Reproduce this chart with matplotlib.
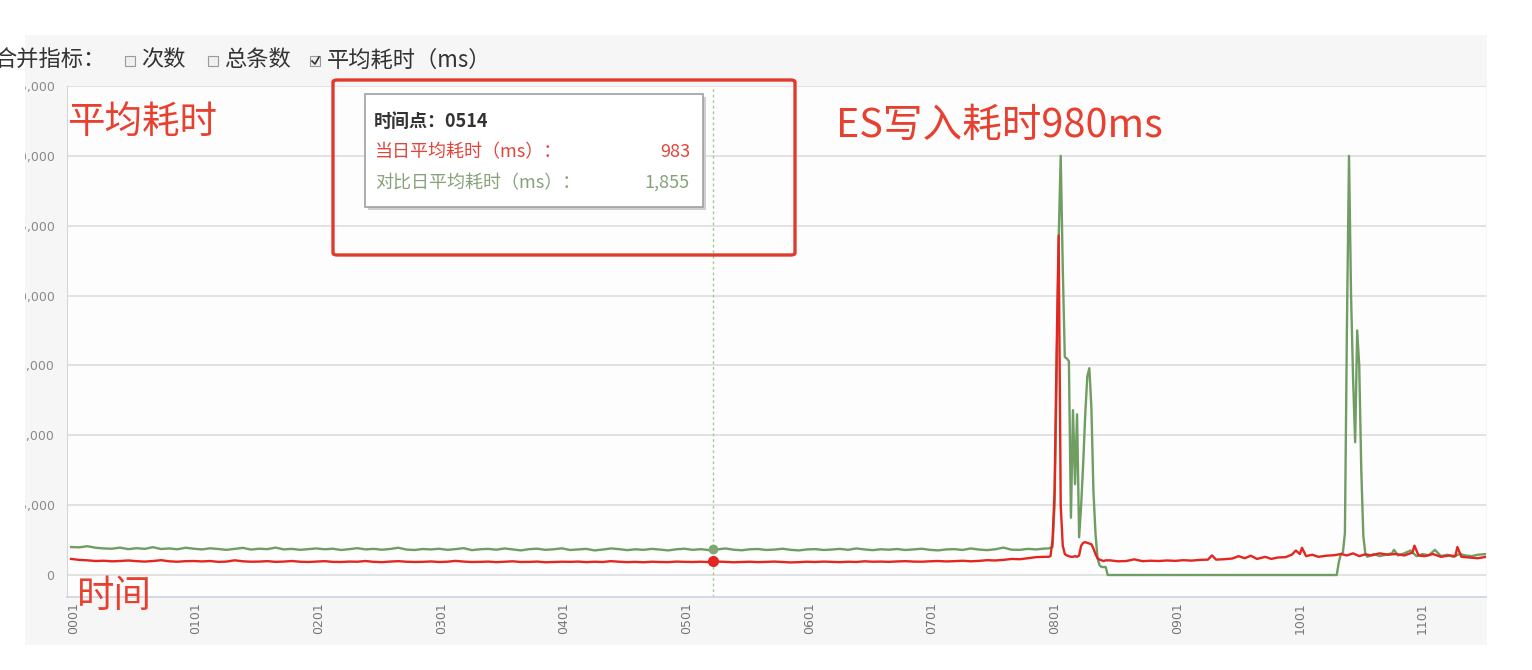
"""
Recreate the ES write latency screenshot chart (average latency per minute).
"""

import matplotlib
matplotlib.use("Agg")
import matplotlib.pyplot as plt
from matplotlib.patches import Rectangle, FancyBboxPatch
from matplotlib.lines import Line2D
from matplotlib.transforms import Bbox, TransformedBbox

plt.rcParams["font.family"] = ["Noto Sans CJK SC", "DejaVu Sans"]

W, H = 1532, 670

# time axis labels (HHMM), one per hour
hour_labels = ["0001", "0101", "0201", "0301", "0401", "0501",
               "0601", "0701", "0801", "0901", "1001", "1101"]
y_ticks = [0, 5000, 10000, 15000, 20000, 25000, 30000, 35000]

# comparison day (green), sampled every 4 minutes up to 07:56
green_base = [
    2000, 1980, 2060, 1950, 1900, 1880, 1960, 1850, 1920, 1870, 1990, 1860, 1900, 1840, 1950, 1880,
    1830, 1910, 1860, 1800, 1870, 1940, 1820, 1880, 1850, 1960, 1830, 1870, 1800, 1850, 1900,
    1840, 1880, 1790, 1850, 1920, 1830, 1870, 1810, 1860, 1950, 1820, 1790, 1860, 1830, 1880,
    1800, 1850, 1920, 1780, 1840, 1870, 1810, 1900, 1830, 1760, 1850, 1880, 1800, 1840, 1910,
    1790, 1830, 1870, 1760, 1820, 1900, 1850, 1780, 1840, 1800, 1870, 1820, 1760, 1840, 1880,
    1800, 1850, 1780, 1830, 1900, 1810, 1770, 1840, 1860, 1790, 1820, 1880, 1800, 1760, 1830,
    1850, 1790, 1820, 1870, 1800, 1900, 1830, 1780, 1840, 1810, 1860, 1790, 1830, 1880, 1800,
    1760, 1830, 1850, 1790, 1900, 1820, 1780, 1840, 1960, 1810, 1800, 1870, 1830, 1890,
]
# comparison day around the 08:00 and 10:25 spikes
green_spike_min = [478, 480, 481, 482, 483, 484, 485, 486, 487, 488, 489, 490, 491, 492,
                   493, 494, 495, 496, 497, 498, 499, 500, 501, 502, 503, 504, 505, 506,
                   507, 619, 620, 621, 622, 623, 624, 625, 626, 627, 628, 629, 630, 631,
                   632, 633, 634]
green_spike = [1900, 2000, 5000, 14000, 24000, 30000, 22000, 15600, 15500, 15300, 4100,
               11800, 6500, 11500, 2700, 5000, 8000, 11500, 14200, 14800, 12000, 6000,
               3000, 1200, 700, 570, 570, 570, 0, 0, 900, 1500, 1600, 3000, 18000, 30000,
               20000, 14000, 9500, 17500, 15000, 7500, 2800, 1500, 1300]
green_tail_min = [637, 640, 643, 646, 647, 649, 652, 655, 658, 661, 664, 667, 670, 673,
                  676, 679, 682, 685, 688, 692]
green_tail = [1500, 1350, 1450, 1550, 1800, 1400, 1550, 1750, 1350, 1500, 1400, 1800,
              1350, 1450, 1300, 1500, 1400, 1350, 1450, 1500]

# current day (red), sampled every 4 minutes up to 07:56
red_base = [
    1150, 1080, 1050, 1000, 1020, 980, 1000, 1040, 990, 960, 1000, 1060, 980, 950, 990, 1000,
    970, 1000, 940, 960, 1050, 980, 950, 960, 990, 940, 960, 1000, 950, 930, 960,
    990, 940, 930, 960, 950, 1000, 940, 920, 960, 990, 950, 930, 940, 970, 930,
    950, 1010, 960, 930, 940, 960, 920, 950, 980, 930, 940, 960, 910, 930, 950,
    940, 960, 920, 950, 930, 990, 950, 920, 940, 910, 950, 930, 920, 960, 940,
    930, 950, 920, 960, 940, 910, 930, 950, 920, 940, 960, 930, 900, 920, 950,
    930, 960, 940, 920, 950, 930, 980, 950, 960, 940, 970, 990, 960, 950, 980,
    1000, 970, 990, 1020, 980, 1010, 1060, 1040, 1080, 1150, 1130, 1200, 1280, 1300,
]
red_spike_min = [478, 479, 480, 481, 482, 483, 484, 485, 486, 487, 488, 489, 490, 491,
                 492, 493, 494, 495, 496, 497, 498, 499, 500, 501, 502, 503, 504, 505, 506]
red_spike = [1300, 1350, 2500, 6000, 16000, 24300, 5000, 2100, 1500, 1400, 1350, 1300,
             1300, 1350, 1300, 1400, 2100, 2300, 2350, 2300, 2250, 2200, 1900, 1500,
             1200, 1100, 1050, 1000, 1050]
red_tail_min = [508, 512, 516, 520, 524, 528, 532, 536, 540, 544, 548, 552, 556, 558,
                560, 564, 568, 571, 574, 577, 580, 584, 587, 590, 594, 597, 599, 601,
                602, 604, 607, 610, 614, 618, 621, 624, 627, 630, 633, 636, 640, 644,
                648, 652, 656, 657, 659, 662, 666, 670, 674, 677, 678, 680, 684, 688, 692]
red_tail = [1050, 980, 1000, 1120, 990, 1020, 1000, 1040, 1010, 1060, 1030, 1080, 1100,
            1400, 1100, 1130, 1180, 1350, 1200, 1380, 1150, 1300, 1150, 1250, 1280, 1450,
            1750, 1500, 1950, 1350, 1450, 1300, 1380, 1420, 1500, 1400, 1550, 1350, 1480,
            1400, 1550, 1450, 1500, 1400, 1600, 2100, 1400, 1350, 1500, 1300, 1400, 1350,
            2000, 1300, 1250, 1200, 1300]

# hovered point (05:14)
hover_min = 314
hover_red = 983
hover_green = 1855

GREEN = "#6f9d62"
RED = "#e3261f"
ANNOT = "#e8402f"


def fx(px):
    return px / W


def fy(py):
    return 1 - py / H


def main():
    fig = plt.figure(figsize=(W / 100, H / 100), dpi=100, facecolor="white")

    # light grey screenshot panel behind the chart
    fig.patches.append(Rectangle((fx(25), fy(645)), fx(1487) - fx(25), fy(35) - fy(645),
                                 transform=fig.transFigure, facecolor="#f6f6f6",
                                 edgecolor="none", zorder=-5))

    ax = fig.add_axes([fx(67), fy(597), fx(1486) - fx(67), fy(86) - fy(597)])
    ax.set_zorder(1)
    ax.set_facecolor("#fdfdfd")

    base_min = list(range(0, 480, 4))
    ax.plot(base_min + green_spike_min + green_tail_min,
            green_base + green_spike + green_tail, color=GREEN, lw=1.7, zorder=3)
    ax.plot(base_min + red_spike_min + red_tail_min,
            red_base + red_spike + red_tail, color=RED, lw=1.7, zorder=4)

    ax.axvline(hover_min, color="#9fd08c", lw=1, ls=(0, (2, 2)), zorder=2)
    ax.plot([hover_min], [hover_green], "o", color="#7fa872", ms=6, zorder=5)
    ax.plot([hover_min], [hover_red], "o", color=RED, ms=7, zorder=5)

    ax.set_xlim(-2, 692)
    ax.set_ylim(-1575, 35000)
    ax.set_yticks(y_ticks)
    ax.set_yticklabels([f"{v:,}" for v in y_ticks], fontsize=9,
                       color="#8a8a8a", family="DejaVu Sans")
    ax.set_xticks([1 + 60 * i for i in range(len(hour_labels))])
    ax.set_xticklabels(hour_labels, rotation=90, fontsize=9, color="#777777",
                       family="DejaVu Sans", va="top")
    ax.tick_params(axis="y", length=0, pad=9)
    ax.tick_params(axis="x", length=0, pad=4)
    ax.grid(axis="y", color="#e0e0e0", lw=1.3)
    ax.set_axisbelow(True)
    for side in ["top", "right"]:
        ax.spines[side].set_visible(False)
    ax.spines["left"].set_color("#d6d6d6")
    ax.spines["bottom"].set_color("#cfd6e6")
    ax.spines["bottom"].set_linewidth(1.3)

    # the screenshot cuts the y labels on the left
    clip = TransformedBbox(Bbox([[fx(25), 0], [1, 1]]), fig.transFigure)
    for lab in ax.get_yticklabels():
        lab.set_clip_box(clip)
        lab.set_clip_on(True)

    # legend row
    fig.text(fx(-6), fy(60), "合并指标：", fontsize=16, color="#333333", va="center")
    fig.text(fx(141), fy(60), "次数", fontsize=16, color="#333333", va="center")
    fig.text(fx(224), fy(60), "总条数", fontsize=16, color="#333333", va="center")
    fig.text(fx(327), fy(60), "平均耗时（ms）", fontsize=16, color="#333333", va="center")
    for bx in [125, 208, 310]:
        fig.patches.append(Rectangle((fx(bx), fy(66)), fx(10), 10 / H,
                                     transform=fig.transFigure, facecolor="#f0f0f0",
                                     edgecolor="#9a9a9a", lw=0.8, zorder=5))
    fig.lines.append(Line2D([fx(312), fx(315), fx(319)], [fy(61), fy(64), fy(57)],
                            transform=fig.transFigure, color="#333333", lw=1.2, zorder=6))

    # hand-drawn annotations
    fig.text(fx(67), fy(122), "平均耗时", fontsize=27, color=ANNOT, va="center", zorder=6)
    fig.text(fx(836), fy(126), "ES写入耗时980ms", fontsize=28.5, color=ANNOT, va="center",
             zorder=6)
    fig.text(fx(77), fy(597), "时间", fontsize=27, color=ANNOT, va="center", zorder=6)
    fig.patches.append(FancyBboxPatch((fx(333), fy(255)), fx(795) - fx(333), fy(80) - fy(255),
                                      boxstyle="round,pad=0,rounding_size=0.003",
                                      transform=fig.transFigure, facecolor="none",
                                      edgecolor="#e03a2e", lw=2.4, zorder=6))

    # tooltip
    fig.patches.append(Rectangle((fx(368), fy(210)), fx(703) - fx(365), fy(94) - fy(207),
                                 transform=fig.transFigure, facecolor="#cfcfcf",
                                 edgecolor="none", zorder=6))
    fig.patches.append(Rectangle((fx(365), fy(207)), fx(703) - fx(365), fy(94) - fy(207),
                                 transform=fig.transFigure, facecolor="white",
                                 edgecolor="#a0a0a0", lw=1.2, zorder=7))
    fig.text(fx(374), fy(121), f"时间点：0{hover_min // 60}{hover_min % 60}", fontsize=13,
             fontweight="bold", color="#333333", va="center", zorder=8)
    fig.text(fx(375), fy(152), "当日平均耗时（ms）：", fontsize=13, color="#e2443c",
             va="center", zorder=8)
    fig.text(fx(690), fy(152), f"{hover_red:,}", fontsize=13, color="#e2443c",
             va="center", ha="right", zorder=8)
    fig.text(fx(375), fy(183), "对比日平均耗时（ms）：", fontsize=13, color="#86a27a",
             va="center", zorder=8)
    fig.text(fx(690), fy(183), f"{hover_green:,}", fontsize=13, color="#86a27a",
             va="center", ha="right", zorder=8)

    fig.savefig("out.png", dpi=100, facecolor="white")


if __name__ == "__main__":
    main()
